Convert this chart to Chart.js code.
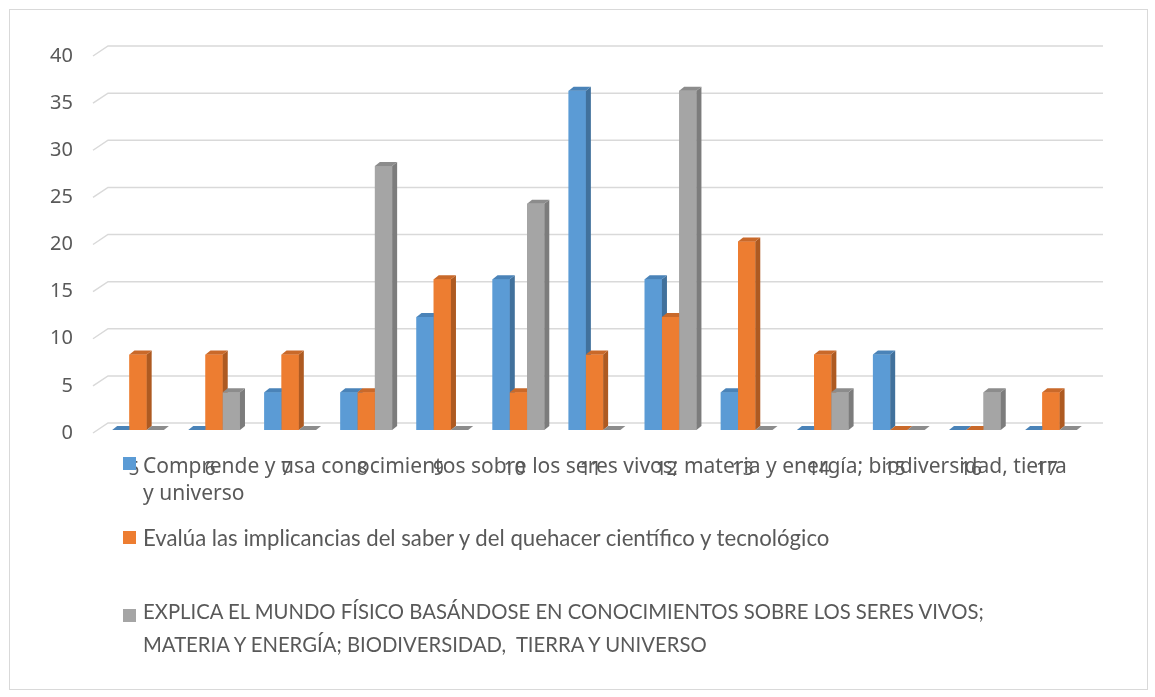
<!DOCTYPE html>
<html>
<head>
<meta charset="utf-8">
<script src="https://cdn.jsdelivr.net/npm/chart.js@4/dist/chart.umd.min.js"></script>
<style>
  html, body { margin: 0; padding: 0; background: #fff; }
  #wrap { position: relative; width: 1155px; height: 697px; }
  #frame { position: absolute; left: 9px; top: 9px; width: 1137px; height: 679px; border: 1px solid #d9d9d9; pointer-events: none; }
  #legend { position: absolute; left: 0; top: 0; }
  .item { position: absolute; color: #595959; }
  .box { position: absolute; width: 13px; height: 13px; }
  .txt { position: absolute; }
</style>
</head>
<body>
<div id="wrap">
  <canvas id="graph1" width="1155" height="697"></canvas>
  <div id="frame"></div>
  <div id="legend"></div>
</div>
<script>
var categories = ['5', '6', '7', '8', '9', '10', '11', '12', '13', '14', '15', '16', '17'];
var comprende = [0, 0, 4, 4, 12, 16, 36, 16, 4, 0, 8, 0, 0];
var evalua = [8, 8, 8, 4, 16, 4, 8, 12, 20, 8, 0, 0, 4];
var explica = [0, 4, 0, 28, 0, 24, 0, 36, 0, 4, 0, 4, 0];
var seriesNames = [
    'Comprende y usa conocimientos sobre los seres vivos; materia y energía; biodiversidad, tierra y universo',
    'Evalúa las implicancias del saber y del quehacer científico y tecnológico',
    'EXPLICA EL MUNDO FÍSICO BASÁNDOSE EN CONOCIMIENTOS SOBRE LOS SERES VIVOS; MATERIA Y ENERGÍA; BIODIVERSIDAD,  TIERRA Y UNIVERSO'
];
var yTicks = [0, 5, 10, 15, 20, 25, 30, 35, 40];

var fronts = ['#5b9bd5', '#ed7d31', '#a5a5a5'];
var sides = ['#41719c', '#ae5a21', '#7c7c7c'];
var tops = ['#4a83b8', '#c9692a', '#8c8c8c'];

var DX = 5, DY = 4;

// back-wall gridlines, offset like the 3d plot
var wallGrid = {
    id: 'wallGrid',
    beforeDatasetsDraw: function (chart) {
        var ctx = chart.ctx, y = chart.scales.y, a = chart.chartArea;
        ctx.save();
        ctx.strokeStyle = '#d9d9d9';
        ctx.lineWidth = 1.5;
        yTicks.forEach(function (v) {
            var py = y.getPixelForValue(v);
            ctx.beginPath();
            ctx.moveTo(a.left - 7, py + 3);
            ctx.lineTo(a.left + 8, py - 7);
            ctx.lineTo(a.right + 14, py - 7);
            ctx.stroke();
        });
        ctx.restore();
    }
};

// redraw bars with side and top faces
var bars3d = {
    id: 'bars3d',
    afterDatasetsDraw: function (chart) {
        var ctx = chart.ctx;
        ctx.save();
        chart.data.datasets.forEach(function (ds, i) {
            var meta = chart.getDatasetMeta(i);
            meta.data.forEach(function (bar) {
                var w = bar.width, l = bar.x - w / 2, r = bar.x + w / 2;
                var t = bar.y, b = bar.base;
                ctx.fillStyle = fronts[i];
                ctx.fillRect(l, t, w, b - t);
                ctx.fillStyle = sides[i];
                ctx.beginPath();
                ctx.moveTo(r, t);
                ctx.lineTo(r + DX, t - DY);
                ctx.lineTo(r + DX, b - DY);
                ctx.lineTo(r, b);
                ctx.closePath();
                ctx.fill();
                ctx.fillStyle = tops[i];
                ctx.beginPath();
                ctx.moveTo(l, t);
                ctx.lineTo(l + DX, t - DY);
                ctx.lineTo(r + DX, t - DY);
                ctx.lineTo(r, t);
                ctx.closePath();
                ctx.fill();
            });
        });
        ctx.restore();
    }
};

Chart.defaults.font.family = '"Noto Sans", sans-serif';
Chart.defaults.color = '#595959';

var context = document.getElementById('graph1').getContext('2d');
var chart = new Chart(context, {
    type: 'bar',
    data: {
        labels: categories,
        datasets: [
            { label: seriesNames[0], data: comprende, backgroundColor: fronts[0] },
            { label: seriesNames[1], data: evalua, backgroundColor: fronts[1] },
            { label: seriesNames[2], data: explica, backgroundColor: fronts[2] }
        ]
    },
    options: {
        responsive: false,
        animation: false,
        layout: { padding: { left: 0, right: 66, top: 53, bottom: 217 } },
        datasets: { bar: { categoryPercentage: 0.68, barPercentage: 1 } },
        plugins: { legend: { display: false }, tooltip: { enabled: false } },
        scales: {
            x: {
                grid: { display: false },
                border: { display: false },
                ticks: { font: { size: 19 }, padding: 20, maxRotation: 0, labelOffset: -4 },
                afterFit: function (s) { s.height = 50; }
            },
            y: {
                min: 0,
                max: 40,
                grid: { display: false },
                border: { display: false },
                ticks: { stepSize: 5, font: { size: 20 }, padding: 19, labelOffset: 3 },
                afterFit: function (s) { s.width = 100; }
            }
        }
    },
    plugins: [wallGrid, bars3d]
});

// legend below the plot, wrapped like the original
var legendSpots = [
    { top: 452, box: 457, width: 935, font: '21px "Noto Sans"', lh: 27 },
    { top: 524, box: 531, width: 900, font: '22.2px Lato', lh: 28 },
    { top: 595, box: 609, width: 880, font: '20.3px Lato', lh: 33 }
];
var legend = document.getElementById('legend');
chart.data.datasets.forEach(function (ds, i) {
    var s = legendSpots[i];
    var item = document.createElement('div');
    item.className = 'item';
    var box = document.createElement('div');
    box.className = 'box';
    box.style.left = '123px';
    box.style.top = s.box + 'px';
    box.style.background = fronts[i];
    var txt = document.createElement('div');
    txt.className = 'txt';
    txt.style.left = '143px';
    txt.style.top = s.top + 'px';
    txt.style.width = s.width + 'px';
    txt.style.font = s.font;
    txt.style.lineHeight = s.lh + 'px';
    txt.style.whiteSpace = 'pre-wrap';
    txt.textContent = ds.label;
    item.appendChild(box);
    item.appendChild(txt);
    legend.appendChild(item);
});
</script>
</body>
</html>
